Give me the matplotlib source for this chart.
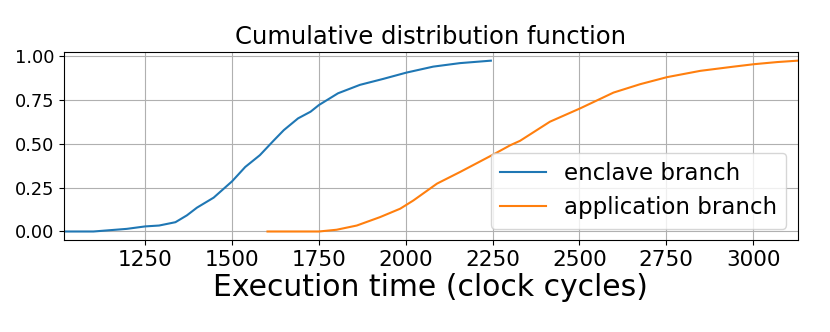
import matplotlib
matplotlib.use("Agg")
import matplotlib.pyplot as plt

# CDF samples (clock cycles, cumulative fraction)
enclave_x = [1016, 1101, 1197, 1250, 1290, 1337, 1370, 1399, 1447, 1500, 1538,
             1580, 1621, 1649, 1690, 1726, 1750, 1805, 1868, 1935, 2002, 2079,
             2156, 2245]
enclave_y = [0.0, 0.0, 0.015, 0.029, 0.034, 0.053, 0.092, 0.136, 0.193, 0.286,
             0.368, 0.435, 0.521, 0.578, 0.645, 0.683, 0.721, 0.788, 0.836,
             0.870, 0.906, 0.940, 0.960, 0.974]

application_x = [1602, 1750, 1801, 1859, 1926, 1984, 2022, 2090, 2157, 2253,
                 2301, 2329, 2415, 2502, 2598, 2675, 2752, 2848, 2944, 3003,
                 3069, 3128]
application_y = [0.0, 0.0, 0.01, 0.034, 0.082, 0.13, 0.177, 0.273, 0.34, 0.44,
                 0.492, 0.517, 0.626, 0.702, 0.792, 0.84, 0.88, 0.916, 0.94,
                 0.954, 0.966, 0.974]

series_labels = ["enclave branch", "application branch"]


def main():
    fig, ax = plt.subplots(figsize=(8.3, 3.32), dpi=100)
    fig.subplots_adjust(left=0.077, right=0.961, top=0.843, bottom=0.277)

    ax.plot(enclave_x, enclave_y, color="#1f77b4", linewidth=1.5, label=series_labels[0])
    ax.plot(application_x, application_y, color="#ff7f0e", linewidth=1.5, label=series_labels[1])

    ax.set_xlim(min(enclave_x), max(application_x))
    ax.set_xticks([1250, 1500, 1750, 2000, 2250, 2500, 2750, 3000])
    ax.set_yticks([0.0, 0.25, 0.5, 0.75, 1.0])
    ax.grid(True)
    ax.tick_params(axis="x", labelsize=15.5)
    ax.tick_params(axis="y", labelsize=12.8)

    ax.set_title("Cumulative distribution function", fontsize=17.5)
    ax.set_xlabel("Execution time (clock cycles)", fontsize=21.5, labelpad=2)
    ax.legend(loc="lower right", fontsize=16.5)

    fig.savefig("out.png", dpi=100)
    plt.close(fig)


if __name__ == "__main__":
    main()
